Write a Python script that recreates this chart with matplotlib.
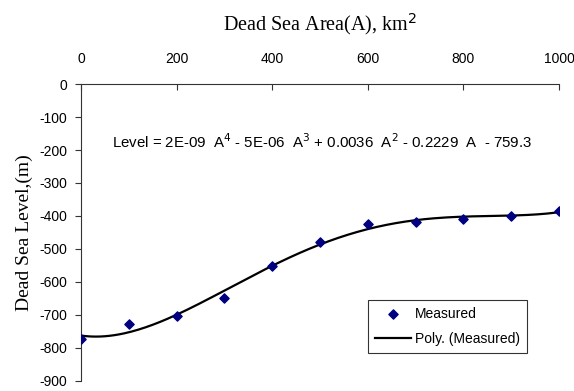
import matplotlib.pyplot as plt
import numpy as np

plt.rcParams['axes.unicode_minus'] = False

# Dead Sea level vs. area, measured points and 4th order trendline
area = [0, 100, 200, 300, 400, 500, 600, 700, 800, 900, 1000]
level = [-773, -728, -702, -650, -552, -478, -425, -419, -408, -400, -386]

eq_text = (r'Level = 2E-09  A$^4$ - 5E-06  A$^3$ + 0.0036  A$^2$'
           r' - 0.2229  A  - 759.3')

# trendline, fitted to the measured points
coef = np.polyfit(area, level, 4)
a_fit = np.linspace(0, 1000, 200)
l_fit = np.polyval(coef, a_fit)

fig = plt.figure(figsize=(5.74, 3.91), dpi=100)
ax = fig.add_axes([0.141, 0.026, 0.833, 0.759])

ax.scatter(area, level, marker='D', s=22, color='#000080', zorder=3, label='Measured')
ax.plot(a_fit, l_fit, color='black', lw=1.6, label='Poly. (Measured)')

ax.set_xlim(0, 1000)
ax.set_ylim(-900, 0)
ax.set_xticks(range(0, 1001, 200))
ax.set_yticks(range(-900, 1, 100))

ax.xaxis.tick_top()
ax.xaxis.set_label_position('top')
ax.spines['right'].set_visible(False)
ax.spines['bottom'].set_visible(False)
for s in ['left', 'top']:
    ax.spines[s].set_color('#333333')
    ax.spines[s].set_linewidth(0.8)
ax.tick_params(axis='x', direction='in', length=4, color='#333333', pad=13,
               labelsize=10)
ax.tick_params(axis='y', direction='out', length=4, color='#333333', pad=6,
               labelsize=10)
for lab in ax.get_xticklabels() + ax.get_yticklabels():
    lab.set_family('Liberation Sans')

ax.set_xlabel('Dead Sea Area(A), km$^2$', family='Liberation Serif', fontsize=14.5,
              labelpad=16)
ax.set_ylabel('Dead Sea Level,(m)', family='Liberation Serif', fontsize=14,
              labelpad=4)

ax.text(0.505, 0.805, eq_text, transform=ax.transAxes, ha='center', va='center',
        family='Liberation Sans', fontsize=10.8)

leg = ax.legend(loc='lower left', bbox_to_anchor=(0.585, 0.07), frameon=True,
                fancybox=False, prop={'family': 'Liberation Sans', 'size': 10},
                handlelength=2.6, borderpad=0.5, labelspacing=0.8,
                handletextpad=0.3)
leg.get_frame().set_edgecolor('black')
leg.get_frame().set_linewidth(0.8)

fig.savefig('out.png', dpi=100)
